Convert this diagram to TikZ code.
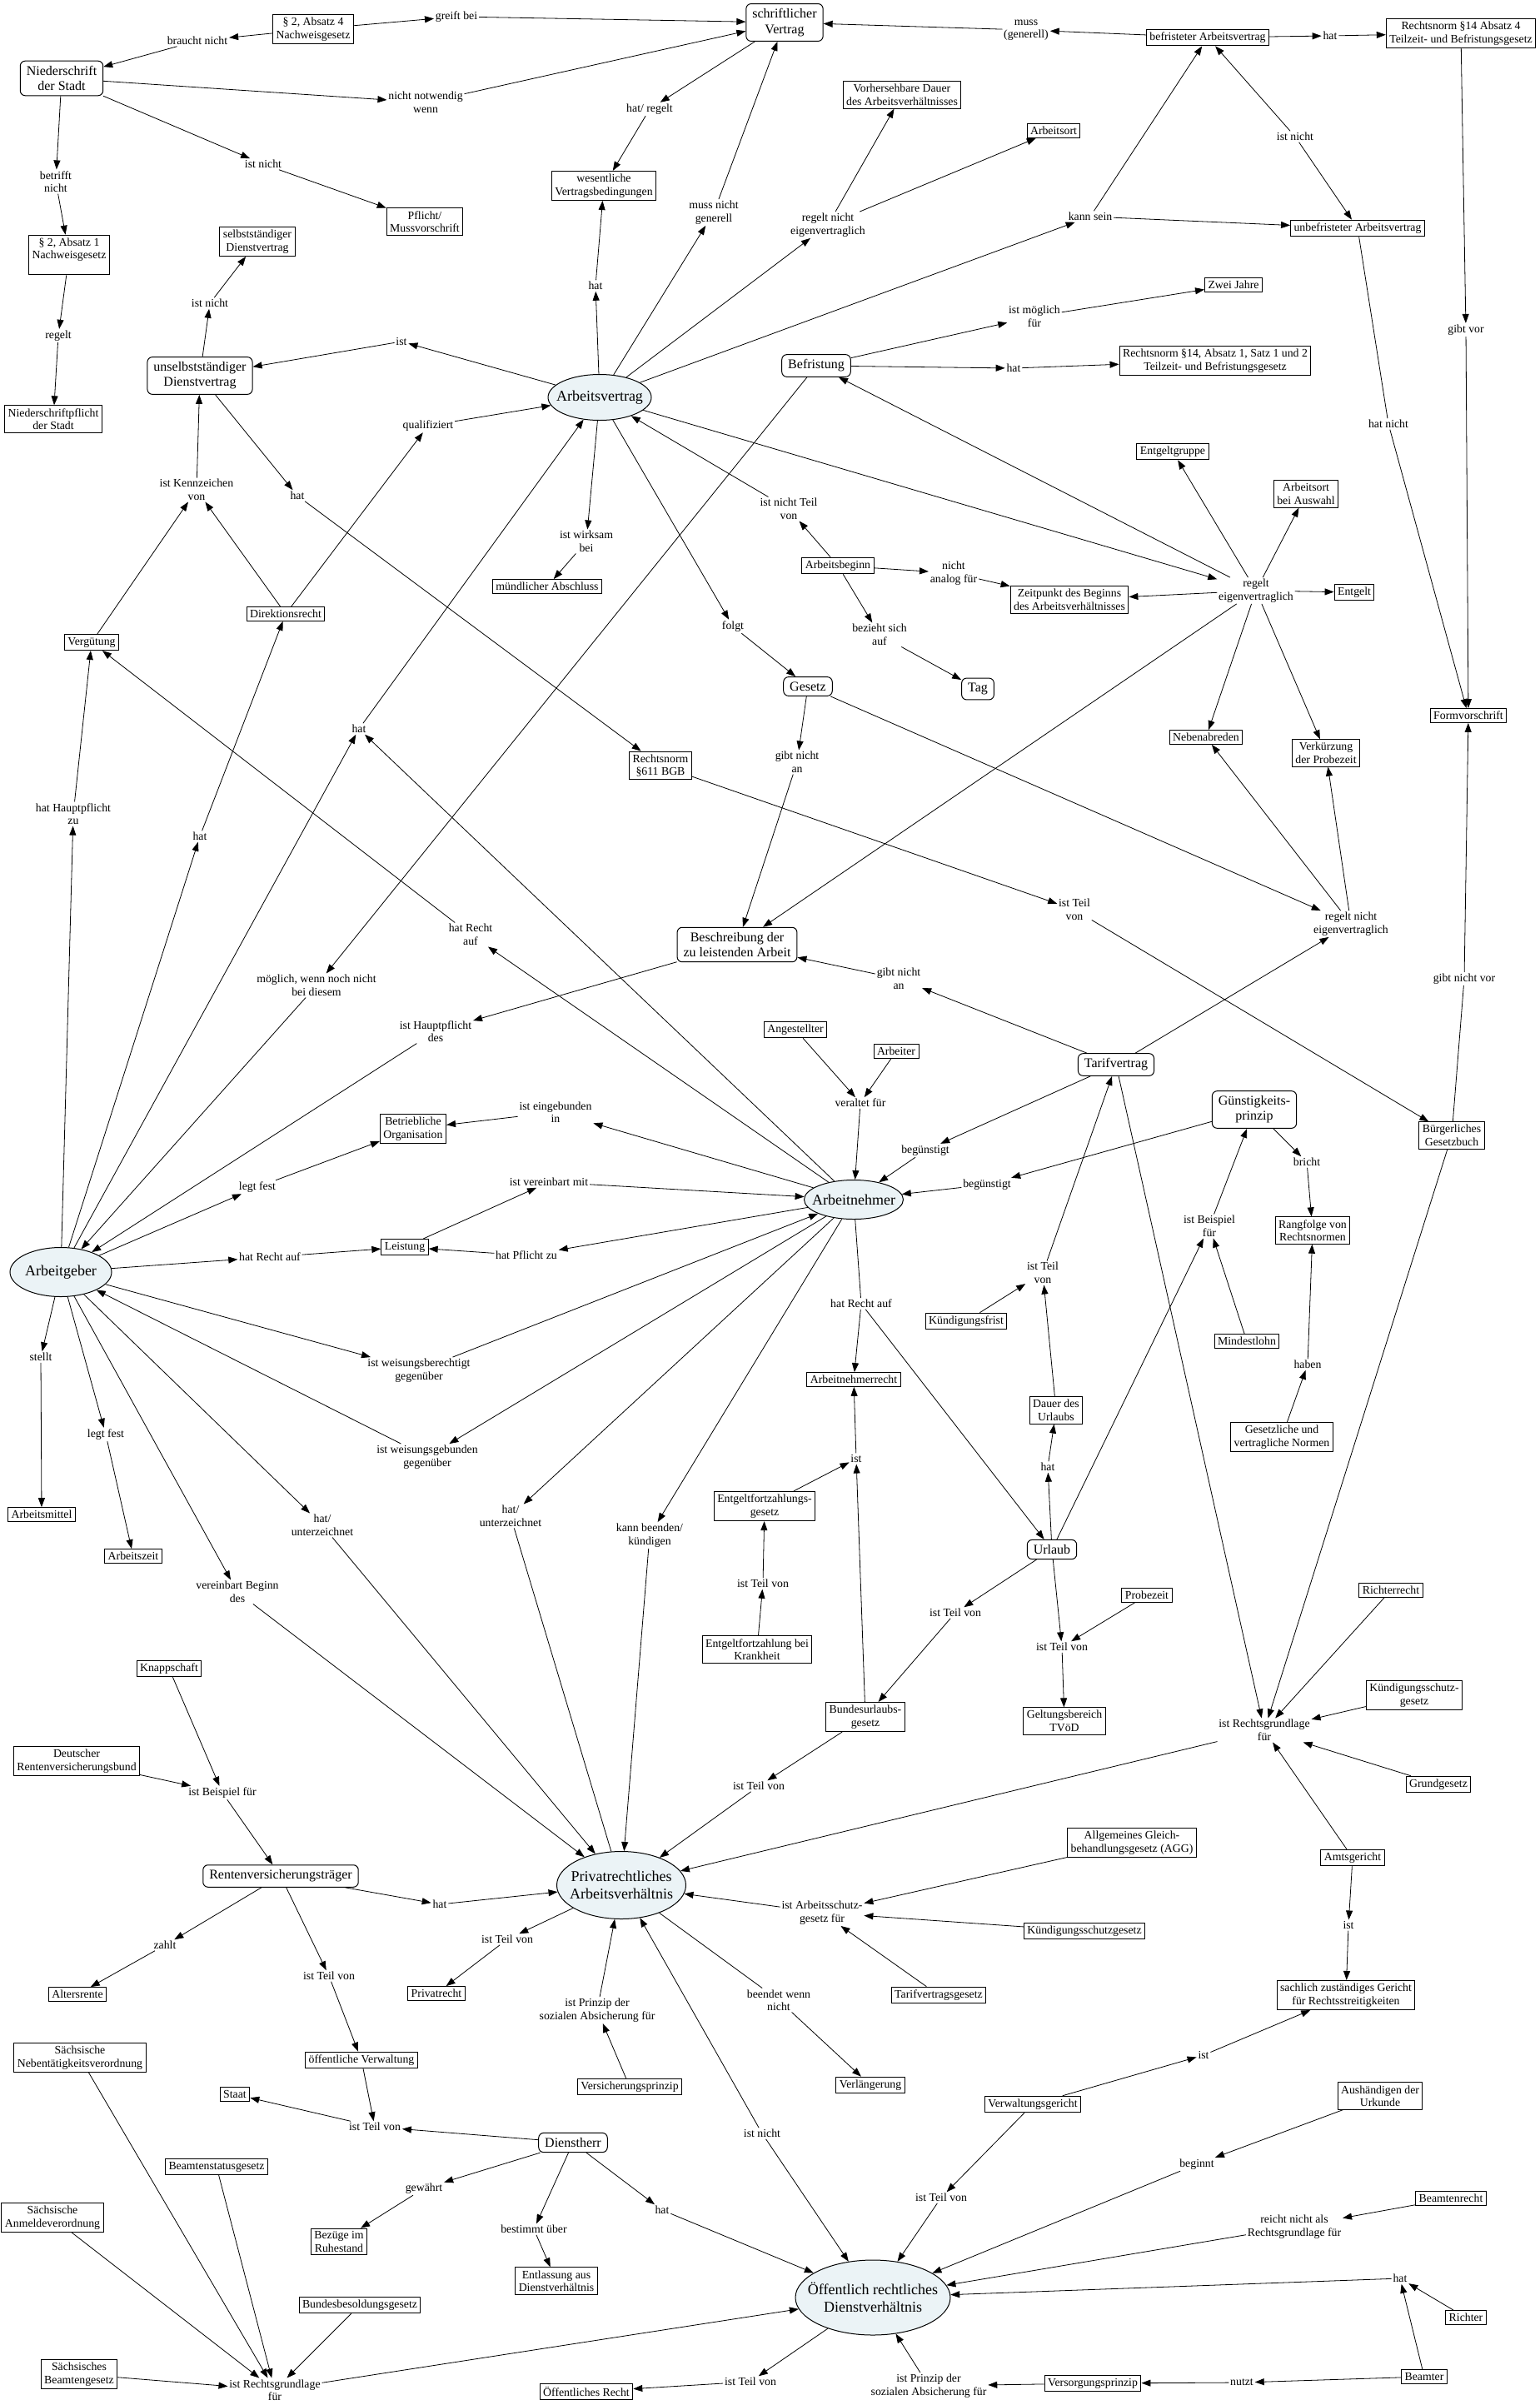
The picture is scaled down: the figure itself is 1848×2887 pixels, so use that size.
\documentclass[tikz,border=0pt]{standalone}
\usepackage{fontspec}
\setmainfont{Liberation Serif}
\usetikzlibrary{shapes.geometric,arrows.meta}
\definecolor{ellfill}{RGB}{235,243,246}
\begin{document}
\begin{tikzpicture}[x=1pt,y=-1pt,line width=0.8pt,>={Triangle[length=11pt,width=8pt]},
  box/.style={draw, line width=1pt, fill=white, align=center, inner xsep=4pt, inner ysep=3.5pt, font=\fontsize{13.8}{15.5}\selectfont},
  rbox/.style={draw, rounded corners=6pt, line width=1pt, fill=white, align=center, inner xsep=7.5pt, inner ysep=6pt, font=\fontsize{16}{18.2}\selectfont},
  ebox/.style={draw, ellipse, line width=1pt, fill=ellfill, align=center, inner xsep=-20pt, inner ysep=0pt, font=\fontsize{18}{21}\selectfont},
  lab/.style={align=center, inner sep=1.5pt, font=\fontsize{13.8}{15.5}\selectfont}]
\useasboundingbox (0,0) rectangle (1848,2887);
\node[box] (nw4) at (376,35) {§ 2, Absatz 4\\Nachweisgesetz};
\node[rbox] (nds) at (74,94) {Niederschrift\\der Stadt};
\node[rbox] (sv) at (942,27) {schriftlicher\\Vertrag};
\node[box] (pflicht) at (510,266) {Pflicht/\\Mussvorschrift};
\node[box] (nw1) at (83,306) {§ 2, Absatz 1\\Nachweisgesetz\\\mbox{}};
\node[box] (nsp) at (64,503) {Niederschriftpflicht\\der Stadt};
\node[box] (sdv) at (309,290) {selbstständiger\\Dienstvertrag};
\node[rbox] (udv) at (240,451) {unselbstständiger\\Dienstvertrag};
\node[box] (wvb) at (725,223) {wesentliche\\Vertragsbedingungen};
\node[box] (vdauer) at (1083,114) {Vorhersehbare Dauer\\des Arbeitsverhältnisses};
\node[box] (aort) at (1265,157) {Arbeitsort};
\node[box] (bav) at (1450,45) {befristeter Arbeitsvertrag};
\node[box] (rn14a4) at (1754,40) {Rechtsnorm §14 Absatz 4\\Teilzeit- und Befristungsgesetz};
\node[box] (ubav) at (1630,274) {unbefristeter Arbeitsvertrag};
\node[ebox, minimum width=124pt, minimum height=55pt] (av) at (720,477) {Arbeitsvertrag};
\node[rbox] (befr) at (980,439) {Befristung};
\node[box] (zwei) at (1481,342) {Zwei Jahre};
\node[box] (rn14a1) at (1459,433) {Rechtsnorm §14, Absatz 1, Satz 1 und 2\\Teilzeit- und Befristungsgesetz};
\node[box] (egruppe) at (1408,542) {Entgeltgruppe};
\node[box] (aortaw) at (1568,593) {Arbeitsort\\bei Auswahl};
\node[box] (entgelt) at (1626,711) {Entgelt};
\node[box] (zpkt) at (1284,720) {Zeitpunkt des Beginns\\des Arbeitsverhältnisses};
\node[box] (mabschl) at (657,704) {mündlicher Abschluss};
\node[box] (abeginn) at (1006,679) {Arbeitsbeginn};
\node[box] (dirr) at (343,737) {Direktionsrecht};
\node[box] (verg) at (110,771) {Vergütung};
\node[rbox] (gesetz) at (970,824) {Gesetz};
\node[rbox] (tag) at (1174,827) {Tag};
\node[box] (rn611) at (793,919) {Rechtsnorm\\§611 BGB};
\node[box] (neben) at (1448,885) {Nebenabreden};
\node[box] (probez) at (1592,904) {Verkürzung\\der Probezeit};
\node[box] (formv) at (1763,859) {Formvorschrift};
\node[rbox] (beschr) at (885,1134) {Beschreibung der\\zu leistenden Arbeit};
\node[rbox] (tv) at (1340,1278) {Tarifvertrag};
\node[box] (angest) at (955,1236) {Angestellter};
\node[box] (arbeiter) at (1076,1262) {Arbeiter};
\node[rbox] (gp) at (1506,1332) {Günstigkeits-\\prinzip};
\node[box] (bgb) at (1743,1363) {Bürgerliches\\Gesetzbuch};
\node[box] (betrorg) at (496,1355) {Betriebliche\\Organisation};
\node[ebox, minimum width=119pt, minimum height=47pt] (an) at (1025,1440) {Arbeitnehmer};
\node[ebox, minimum width=122pt, minimum height=59pt] (ag) at (73,1527) {Arbeitgeber};
\node[box] (leist) at (486,1497) {Leistung};
\node[box] (rangf) at (1576,1477) {Rangfolge von\\Rechtsnormen};
\node[box] (kfrist) at (1160,1586) {Kündigungsfrist};
\node[box] (mlohn) at (1497,1610) {Mindestlohn};
\node[box] (anr) at (1025,1656) {Arbeitnehmerrecht};
\node[box] (udauer) at (1268,1693) {Dauer des\\Urlaubs};
\node[box] (gvn) at (1539,1725) {Gesetzliche und\\vertragliche Normen};
\node[box] (efzg) at (918,1808) {Entgeltfortzahlungs-\\gesetz};
\node[box] (amittel) at (50,1818) {Arbeitsmittel};
\node[box] (azeit) at (160,1868) {Arbeitszeit};
\node[rbox] (urlaub) at (1263,1860) {Urlaub};
\node[box] (richterr) at (1670,1909) {Richterrecht};
\node[box] (probe) at (1377,1915) {Probezeit};
\node[box] (efzk) at (909,1980) {Entgeltfortzahlung bei\\Krankheit};
\node[box] (knapp) at (203,2003) {Knappschaft};
\node[box] (kschg2) at (1698,2035) {Kündigungsschutz-\\gesetz};
\node[box] (burlg) at (1039,2061) {Bundesurlaubs-\\gesetz};
\node[box] (tvoed) at (1278,2066) {Geltungsbereich\\TVöD};
\node[box] (drv) at (92,2114) {Deutscher\\Rentenversicherungsbund};
\node[box] (gg) at (1727,2142) {Grundgesetz};
\node[box] (agg) at (1359,2212) {Allgemeines Gleich-\\behandlungsgesetz (AGG)};
\node[box] (amtsg) at (1624,2230) {Amtsgericht};
\node[rbox] (rvt) at (337,2252) {Rentenversicherungsträger};
\node[ebox, minimum width=155pt, minimum height=81pt] (pav) at (746,2263) {Privatrechtliches\\Arbeitsverhältnis};
\node[box] (kschg) at (1302,2318) {Kündigungsschutzgesetz};
\node[box] (altersr) at (93,2394) {Altersrente};
\node[box] (privr) at (524,2393) {Privatrecht};
\node[box] (tvg) at (1127,2395) {Tarifvertragsgesetz};
\node[box] (sgericht) at (1616,2395) {sachlich zuständiges Gericht\\für Rechtsstreitigkeiten};
\node[box] (snv) at (96,2470) {Sächsische\\Nebentätigkeitsverordnung};
\node[box] (oeverw) at (434,2473) {öffentliche Verwaltung};
\node[box] (vprinzip) at (756,2505) {Versicherungsprinzip};
\node[box] (verl) at (1045,2503) {Verlängerung};
\node[box] (staat) at (282,2514) {Staat};
\node[box] (aush) at (1657,2516) {Aushändigen der\\Urkunde};
\node[box] (vgericht) at (1240,2526) {Verwaltungsgericht};
\node[rbox] (dh) at (688,2572) {Dienstherr};
\node[box] (bstg) at (260,2601) {Beamtenstatusgesetz};
\node[box] (brecht) at (1742,2639) {Beamtenrecht};
\node[box] (sav) at (63,2662) {Sächsische\\Anmeldeverordnung};
\node[box] (bezuege) at (407,2691) {Bezüge im\\Ruhestand};
\node[box] (entl) at (668,2738) {Entlassung aus\\Dienstverhältnis};
\node[ebox, minimum width=186pt, minimum height=90pt] (oerd) at (1048,2758) {Öffentlich rechtliches\\Dienstverhältnis};
\node[box] (bbesg) at (432,2767) {Bundesbesoldungsgesetz};
\node[box] (richter) at (1760,2782) {Richter};
\node[box] (sbg) at (95,2850) {Sächsisches\\Beamtengesetz};
\node[box] (beamter) at (1710,2853) {Beamter};
\node[box] (vsprinzip) at (1312,2861) {Versorgungsprinzip};
\node[box] (oer) at (704,2871) {Öffentliches Recht};
\node[lab] (lgreift) at (548,20) {greift bei};
\node[lab] (lbraucht) at (237,49) {braucht nicht};
\node[lab] (lnotw) at (511,123) {nicht notwendig\\wenn};
\node[lab] (listnicht1) at (316,197) {ist nicht};
\node[lab] (lbetrifft) at (67,218) {betrifft\\nicht};
\node[lab] (lregelt) at (70,403) {regelt};
\node[lab] (listnicht2) at (252,364) {ist nicht};
\node[lab] (list1) at (482,410) {ist};
\node[lab] (lqual) at (514,511) {qualifiziert};
\node[lab] (lkennz) at (236,588) {ist Kennzeichen\\von};
\node[lab] (lhat611) at (357,595) {hat};
\node[lab] (lhatregelt) at (780,131) {hat/ regelt};
\node[lab] (lhatwvb) at (715,343) {hat};
\node[lab] (lmussnicht) at (857,255) {muss nicht\\generell};
\node[lab] (lrne1) at (994,270) {regelt nicht\\eigenvertraglich};
\node[lab] (lkann) at (1309,260) {kann sein};
\node[lab] (lmuss) at (1232,36) {muss\\(generell)};
\node[lab] (lhat14) at (1597,43) {hat};
\node[lab] (listnicht3) at (1555,164) {ist nicht};
\node[lab] (lgibtvor) at (1760,396) {gibt vor};
\node[lab] (lhatnicht) at (1667,509) {hat nicht};
\node[lab] (lmoegl) at (1242,380) {ist möglich\\für};
\node[lab] (lhatbefr) at (1217,442) {hat};
\node[lab] (lre) at (1508,709) {regelt\\eigenvertraglich};
\node[lab] (lnteil) at (947,611) {ist nicht Teil\\von};
\node[lab] (lanalog) at (1145,688) {nicht\\analog für};
\node[lab] (lbezieht) at (1056,762) {bezieht sich\\auf};
\node[lab] (lfolgt) at (880,752) {folgt};
\node[lab] (lwirksam) at (704,650) {ist wirksam\\bei};
\node[lab] (lgna1) at (957,915) {gibt nicht\\an};
\node[lab] (lrne2) at (1622,1109) {regelt nicht\\eigenvertraglich};
\node[lab] (lteil611) at (1290,1092) {ist Teil\\von};
\node[lab] (lgna2) at (1079,1175) {gibt nicht\\an};
\node[lab] (lgnv) at (1758,1175) {gibt nicht vor};
\node[lab] (lhatav) at (431,875) {hat};
\node[lab] (lhauptzu) at (88,977) {hat Hauptpflicht\\zu};
\node[lab] (lhatdir) at (240,1004) {hat};
\node[lab] (lrechtverg) at (565,1122) {hat Recht\\auf};
\node[lab] (lmoeglich) at (380,1183) {möglich, wenn noch nicht\\bei diesem};
\node[lab] (lhauptdes) at (523,1238) {ist Hauptpflicht\\des};
\node[lab] (llegtbo) at (309,1425) {legt fest};
\node[lab] (lveraltet) at (1033,1324) {veraltet für};
\node[lab] (leingeb) at (667,1335) {ist eingebunden\\in};
\node[lab] (lbeg1) at (1111,1381) {begünstigt};
\node[lab] (lbeg2) at (1185,1422) {begünstigt};
\node[lab] (lvereinb) at (659,1419) {ist vereinbart mit};
\node[lab] (lrechtleist) at (324,1509) {hat Recht auf};
\node[lab] (lpflichtzu) at (632,1507) {hat Pflicht zu};
\node[lab] (lbricht) at (1569,1395) {bricht};
\node[lab] (lbsp1) at (1452,1472) {ist Beispiel\\für};
\node[lab] (lteiltv) at (1252,1528) {ist Teil\\von};
\node[lab] (lrechtan) at (1034,1565) {hat Recht auf};
\node[lab] (lhaben) at (1570,1638) {haben};
\node[lab] (lstellt) at (49,1629) {stellt};
\node[lab] (llegtaz) at (127,1722) {legt fest};
\node[lab] (lwberecht) at (503,1645) {ist weisungsberechtigt\\gegenüber};
\node[lab] (lwgeb) at (513,1749) {ist weisungsgebunden\\gegenüber};
\node[lab] (list2) at (1028,1751) {ist};
\node[lab] (lhaturl) at (1258,1761) {hat};
\node[lab] (lunterz1) at (387,1831) {hat/\\unterzeichnet};
\node[lab] (lunterz2) at (613,1820) {hat/\\unterzeichnet};
\node[lab] (lkuend) at (780,1843) {kann beenden/\\kündigen};
\node[lab] (lteilefz) at (916,1901) {ist Teil von};
\node[lab] (lvbeginn) at (285,1911) {vereinbart Beginn\\des};
\node[lab] (lteilburlg) at (1147,1936) {ist Teil von};
\node[lab] (lteiltvoed) at (1275,1977) {ist Teil von};
\node[lab] (lrgl1) at (1518,2077) {ist Rechtsgrundlage\\für};
\node[lab] (lteilpav) at (911,2144) {ist Teil von};
\node[lab] (lbsp2) at (267,2152) {ist Beispiel für};
\node[lab] (lhatpav) at (528,2286) {hat};
\node[lab] (lasg) at (987,2296) {ist Arbeitsschutz-\\gesetz für};
\node[lab] (list3) at (1619,2311) {ist};
\node[lab] (lteilpr) at (609,2328) {ist Teil von};
\node[lab] (lzahlt) at (198,2335) {zahlt};
\node[lab] (lteiloev) at (395,2372) {ist Teil von};
\node[lab] (lbeendet) at (935,2401) {beendet wenn\\nicht};
\node[lab] (lprinzip1) at (717,2413) {ist Prinzip der\\sozialen Absicherung für};
\node[lab] (list4) at (1445,2467) {ist};
\node[lab] (lteilstaat) at (450,2553) {ist Teil von};
\node[lab] (listnicht4) at (915,2561) {ist nicht};
\node[lab] (lbeginnt) at (1437,2598) {beginnt};
\node[lab] (lgewaehrt) at (509,2627) {gewährt};
\node[lab] (lteiloerd) at (1130,2638) {ist Teil von};
\node[lab] (lhatoerd) at (795,2653) {hat};
\node[lab] (lreicht) at (1554,2673) {reicht nicht als\\Rechtsgrundlage für};
\node[lab] (lbestimmt) at (641,2676) {bestimmt über};
\node[lab] (lhatrichter) at (1681,2735) {hat};
\node[lab] (lteiloer) at (901,2859) {ist Teil von};
\node[lab] (lnutzt) at (1491,2860) {nutzt};
\node[lab] (lprinzip2) at (1115,2864) {ist Prinzip der\\sozialen Absicherung für};
\node[lab] (lrgl2) at (330,2869) {ist Rechtsgrundlage\\für};
\draw[->] (nw4) -- (lgreift);
\draw[->] (lgreift) -- (sv);
\draw[->] (nw4) -- (lbraucht);
\draw[->] (lbraucht) -- (nds);
\draw[->] (nds) -- (lnotw);
\draw[->] (lnotw) -- (sv);
\draw[->] (nds) -- (listnicht1);
\draw[->] (listnicht1) -- (pflicht);
\draw[->] (nds) -- (lbetrifft);
\draw[->] (lbetrifft) -- (nw1);
\draw[->] (nw1) -- (lregelt);
\draw[->] (lregelt) -- (nsp);
\draw[->] (udv) -- (listnicht2);
\draw[->] (listnicht2) -- (sdv);
\draw[->] (av) -- (list1);
\draw[->] (list1) -- (udv);
\draw[->] (dirr) -- (lqual);
\draw[->] (lqual) -- (av);
\draw[->] (dirr) -- (lkennz);
\draw[->] (verg) -- (lkennz);
\draw[->] (lkennz) -- (udv);
\draw[->] (udv) -- (lhat611);
\draw[->] (lhat611) -- (rn611);
\draw[->] (sv) -- (lhatregelt);
\draw[->] (lhatregelt) -- (wvb);
\draw[->] (av) -- (lhatwvb);
\draw[->] (lhatwvb) -- (wvb);
\draw[->] (av) -- (lmussnicht);
\draw[->] (lmussnicht) -- (sv);
\draw[->] (av) -- (lrne1);
\draw[->] (lrne1) -- (vdauer);
\draw[->] (lrne1) -- (aort);
\draw[->] (av) -- (lkann);
\draw[->] (lkann) -- (bav);
\draw[->] (lkann) -- (ubav);
\draw[->] (bav) -- (lmuss);
\draw[->] (lmuss) -- (sv);
\draw[->] (bav) -- (lhat14);
\draw[->] (lhat14) -- (rn14a4);
\draw[->] (listnicht3) -- (bav);
\draw[->] (listnicht3) -- (ubav);
\draw[->] (rn14a4) -- (lgibtvor);
\draw[->] (lgibtvor) -- (formv);
\draw (ubav) -- (lhatnicht);
\draw[->] (lhatnicht) -- (formv);
\draw (bgb) -- (lgnv);
\draw[->] (lgnv) -- (formv);
\draw[->] (befr) -- (lmoegl);
\draw[->] (lmoegl) -- (zwei);
\draw[->] (befr) -- (lhatbefr);
\draw[->] (lhatbefr) -- (rn14a1);
\draw[->] (av) -- (lre);
\draw[->] (lre) -- (befr);
\draw[->] (lre) -- (egruppe);
\draw[->] (lre) -- (aortaw);
\draw[->] (lre) -- (entgelt);
\draw[->] (lre) -- (zpkt);
\draw[->] (lre) -- (neben);
\draw[->] (lre) -- (probez);
\draw[->] (lre) -- (beschr);
\draw[->] (abeginn) -- (lnteil);
\draw[->] (lnteil) -- (av);
\draw[->] (abeginn) -- (lanalog);
\draw[->] (lanalog) -- (zpkt);
\draw[->] (abeginn) -- (lbezieht);
\draw[->] (lbezieht) -- (tag);
\draw[->] (av) -- (lfolgt);
\draw[->] (lfolgt) -- (gesetz);
\draw[->] (av) -- (lwirksam);
\draw[->] (lwirksam) -- (mabschl);
\draw[->] (gesetz) -- (lgna1);
\draw[->] (lgna1) -- (beschr);
\draw[->] (gesetz) -- (lrne2);
\draw[->] (tv) -- (lrne2);
\draw[->] (lrne2) -- (neben);
\draw[->] (lrne2) -- (probez);
\draw[->] (rn611) -- (lteil611);
\draw[->] (lteil611) -- (bgb);
\draw[->] (tv) -- (lgna2);
\draw[->] (lgna2) -- (beschr);
\draw[->] (beschr) -- (lhauptdes);
\draw[->] (lhauptdes) -- (ag);
\draw[->] (befr) -- (lmoeglich);
\draw[->] (lmoeglich) -- (ag);
\draw[->] (ag) -- (lhatav);
\draw[->] (an) -- (lhatav);
\draw[->] (lhatav) -- (av);
\draw[->] (an) -- (lrechtverg);
\draw[->] (lrechtverg) -- (verg);
\draw[->] (ag) -- (lhauptzu);
\draw[->] (lhauptzu) -- (verg);
\draw[->] (ag) -- (lhatdir);
\draw[->] (lhatdir) -- (dirr);
\draw[->] (ag) -- (llegtbo);
\draw[->] (llegtbo) -- (betrorg);
\draw[->] (an) -- (leingeb);
\draw[->] (leingeb) -- (betrorg);
\draw[->] (leist) -- (lvereinb);
\draw[->] (lvereinb) -- (an);
\draw[->] (ag) -- (lrechtleist);
\draw[->] (lrechtleist) -- (leist);
\draw[->] (an) -- (lpflichtzu);
\draw[->] (lpflichtzu) -- (leist);
\draw[->] (ag) -- (lwberecht);
\draw[->] (lwberecht) -- (an);
\draw[->] (an) -- (lwgeb);
\draw[->] (lwgeb) -- (ag);
\draw[->] (ag) -- (lstellt);
\draw[->] (lstellt) -- (amittel);
\draw[->] (ag) -- (llegtaz);
\draw[->] (llegtaz) -- (azeit);
\draw[->] (ag) -- (lunterz1);
\draw[->] (lunterz1) -- (pav);
\draw[->] (ag) -- (lvbeginn);
\draw[->] (lvbeginn) -- (pav);
\draw[->] (an) -- (lunterz2);
\draw (lunterz2) -- (pav);
\draw[->] (an) -- (lkuend);
\draw[->] (lkuend) -- (pav);
\draw (an) -- (lrechtan);
\draw[->] (lrechtan) -- (anr);
\draw[->] (lrechtan) -- (urlaub);
\draw[->] (angest) -- (lveraltet);
\draw[->] (arbeiter) -- (lveraltet);
\draw[->] (lveraltet) -- (an);
\draw[->] (tv) -- (lbeg1);
\draw[->] (lbeg1) -- (an);
\draw[->] (gp) -- (lbeg2);
\draw[->] (lbeg2) -- (an);
\draw[->] (efzg) -- (list2);
\draw[->] (burlg) -- (list2);
\draw[->] (list2) -- (anr);
\draw[->] (efzk) -- (lteilefz);
\draw[->] (lteilefz) -- (efzg);
\draw[->] (urlaub) -- (lteilburlg);
\draw[->] (lteilburlg) -- (burlg);
\draw[->] (burlg) -- (lteilpav);
\draw[->] (lteilpav) -- (pav);
\draw[->] (kfrist) -- (lteiltv);
\draw[->] (udauer) -- (lteiltv);
\draw[->] (lteiltv) -- (tv);
\draw[->] (urlaub) -- (lhaturl);
\draw[->] (lhaturl) -- (udauer);
\draw[->] (urlaub) -- (lbsp1);
\draw[->] (mlohn) -- (lbsp1);
\draw[->] (lbsp1) -- (gp);
\draw[->] (gp) -- (lbricht);
\draw[->] (lbricht) -- (rangf);
\draw[->] (gvn) -- (lhaben);
\draw[->] (lhaben) -- (rangf);
\draw[->] (urlaub) -- (lteiltvoed);
\draw[->] (probe) -- (lteiltvoed);
\draw[->] (lteiltvoed) -- (tvoed);
\draw[->] (tv) -- (lrgl1);
\draw[->] (bgb) -- (lrgl1);
\draw[->] (richterr) -- (lrgl1);
\draw[->] (kschg2) -- (lrgl1);
\draw[->] (gg) -- (lrgl1);
\draw[->] (amtsg) -- (lrgl1);
\draw[->] (lrgl1) -- (pav);
\draw[->] (rvt) -- (lhatpav);
\draw[->] (lhatpav) -- (pav);
\draw[->] (knapp) -- (lbsp2);
\draw[->] (drv) -- (lbsp2);
\draw[->] (lbsp2) -- (rvt);
\draw[->] (rvt) -- (lzahlt);
\draw[->] (lzahlt) -- (altersr);
\draw[->] (rvt) -- (lteiloev);
\draw[->] (lteiloev) -- (oeverw);
\draw[->] (pav) -- (lteilpr);
\draw[->] (lteilpr) -- (privr);
\draw[->] (oeverw) -- (lteilstaat);
\draw[->] (dh) -- (lteilstaat);
\draw[->] (lteilstaat) -- (staat);
\draw[->] (dh) -- (lgewaehrt);
\draw[->] (lgewaehrt) -- (bezuege);
\draw[->] (dh) -- (lbestimmt);
\draw[->] (lbestimmt) -- (entl);
\draw[->] (dh) -- (lhatoerd);
\draw[->] (lhatoerd) -- (oerd);
\draw[->] (vprinzip) -- (lprinzip1);
\draw[->] (lprinzip1) -- (pav);
\draw (pav) -- (lbeendet);
\draw[->] (lbeendet) -- (verl);
\draw[->] (agg) -- (lasg);
\draw[->] (kschg) -- (lasg);
\draw[->] (tvg) -- (lasg);
\draw[->] (lasg) -- (pav);
\draw[->] (listnicht4) -- (pav);
\draw[->] (listnicht4) -- (oerd);
\draw[->] (snv) -- (lrgl2);
\draw[->] (bstg) -- (lrgl2);
\draw[->] (sav) -- (lrgl2);
\draw[->] (sbg) -- (lrgl2);
\draw[->] (bbesg) -- (lrgl2);
\draw[->] (lrgl2) -- (oerd);
\draw[->] (vgericht) -- (lteiloerd);
\draw[->] (lteiloerd) -- (oerd);
\draw[->] (vgericht) -- (list4);
\draw[->] (list4) -- (sgericht);
\draw[->] (amtsg) -- (list3);
\draw[->] (list3) -- (sgericht);
\draw[->] (aush) -- (lbeginnt);
\draw[->] (lbeginnt) -- (oerd);
\draw[->] (brecht) -- (lreicht);
\draw[->] (lreicht) -- (oerd);
\draw[->] (richter) -- (lhatrichter);
\draw[->] (beamter) -- (lhatrichter);
\draw[->] (lhatrichter) -- (oerd);
\draw[->] (beamter) -- (lnutzt);
\draw[->] (lnutzt) -- (vsprinzip);
\draw[->] (vsprinzip) -- (lprinzip2);
\draw[->] (lprinzip2) -- (oerd);
\draw[->] (oerd) -- (lteiloer);
\draw[->] (lteiloer) -- (oer);
\end{tikzpicture}
\end{document}
